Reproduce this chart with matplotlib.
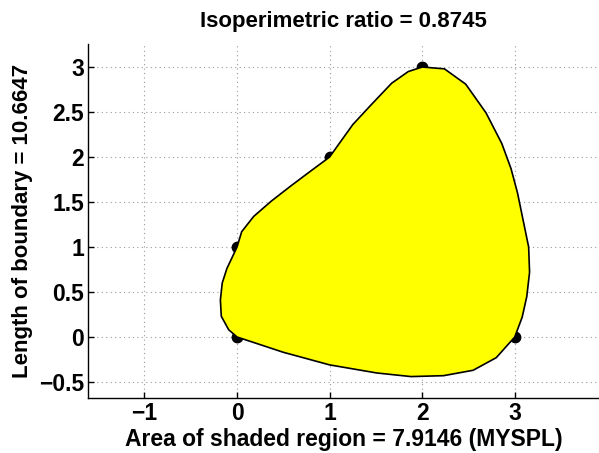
import numpy as np
import matplotlib
matplotlib.use('Agg')
import matplotlib.pyplot as plt

# data points of the closed curve
pts_x = [0, 3, 2, 1, 0]
pts_y = [0, 0, 3, 2, 1]

# boundary of the shaded region (MYSPL spline)
bnd_x = [0.0, 0.5, 1.0, 1.51, 1.88, 2.23, 2.55, 2.80, 3.0, 3.08, 3.13, 3.16, 3.15, 3.09,
         3.03, 2.96, 2.86, 2.69, 2.47, 2.24, 2.0, 1.85, 1.67, 1.43, 1.25, 1.09, 1.0,
         0.79, 0.57, 0.37, 0.18, 0.05, 0.0, -0.11, -0.16, -0.18, -0.17, -0.09, 0.0]
bnd_y = [0.0, -0.17, -0.31, -0.40, -0.44, -0.43, -0.37, -0.23, 0.0, 0.22, 0.45, 0.72, 1.0, 1.3,
         1.6, 1.87, 2.15, 2.49, 2.81, 2.98, 3.0, 2.95, 2.82, 2.56, 2.36, 2.13, 2.0,
         1.84, 1.67, 1.51, 1.34, 1.17, 1.0, 0.76, 0.6, 0.41, 0.23, 0.08, 0.0]

xticks = [-1, 0, 1, 2, 3]
yticks = [-0.5, 0, 0.5, 1, 1.5, 2, 2.5, 3]

title_txt = 'Isoperimetric ratio = 0.8745'
xlabel_txt = 'Area of shaded region = 7.9146 (MYSPL)'
ylabel_txt = 'Length of boundary = 10.6647'

plt.rcParams['font.family'] = ['Liberation Sans', 'DejaVu Sans']
plt.rcParams['font.weight'] = 'bold'
plt.rcParams['axes.labelweight'] = 'bold'
plt.rcParams['axes.titleweight'] = 'bold'
plt.rcParams['font.size'] = 16

fig = plt.figure(figsize=(5.99, 4.53), dpi=100)
ax = fig.add_axes([88 / 599, 55 / 453, 1 - 88 / 599, 1 - 55 / 453 - 44 / 453])

ax.plot(pts_x, pts_y, 'ko', markersize=7.5, zorder=2)
ax.fill(bnd_x, bnd_y, facecolor='#ffff00', edgecolor='black', linewidth=1.2, zorder=3)

ax.set_xlim(-1.61, 3.91)
ax.set_ylim(-0.678, 3.256)
ax.set_xticks(xticks)
ax.set_yticks(yticks)
ax.set_xticklabels(['\u2212' + str(-v) if v < 0 else str(v) for v in xticks])
ax.set_yticklabels(['\u2212' + ('%g' % -v) if v < 0 else '%g' % v for v in yticks])
ax.grid(True, linestyle=(0, (1, 3)), color='#999999', linewidth=0.8)
ax.set_axisbelow(True)
ax.tick_params(direction='in', length=4, width=1, pad=3, labelsize=16.5)
ax.spines['top'].set_visible(False)
ax.spines['right'].set_visible(False)
ax.spines['left'].set_linewidth(1)
ax.spines['bottom'].set_linewidth(1)

ax.set_title(title_txt, pad=12, fontsize=16)
ax.set_xlabel(xlabel_txt, labelpad=2, fontsize=16.5)
ax.set_ylabel(ylabel_txt, labelpad=4, fontsize=16)

plt.savefig('out.png', dpi=100)
